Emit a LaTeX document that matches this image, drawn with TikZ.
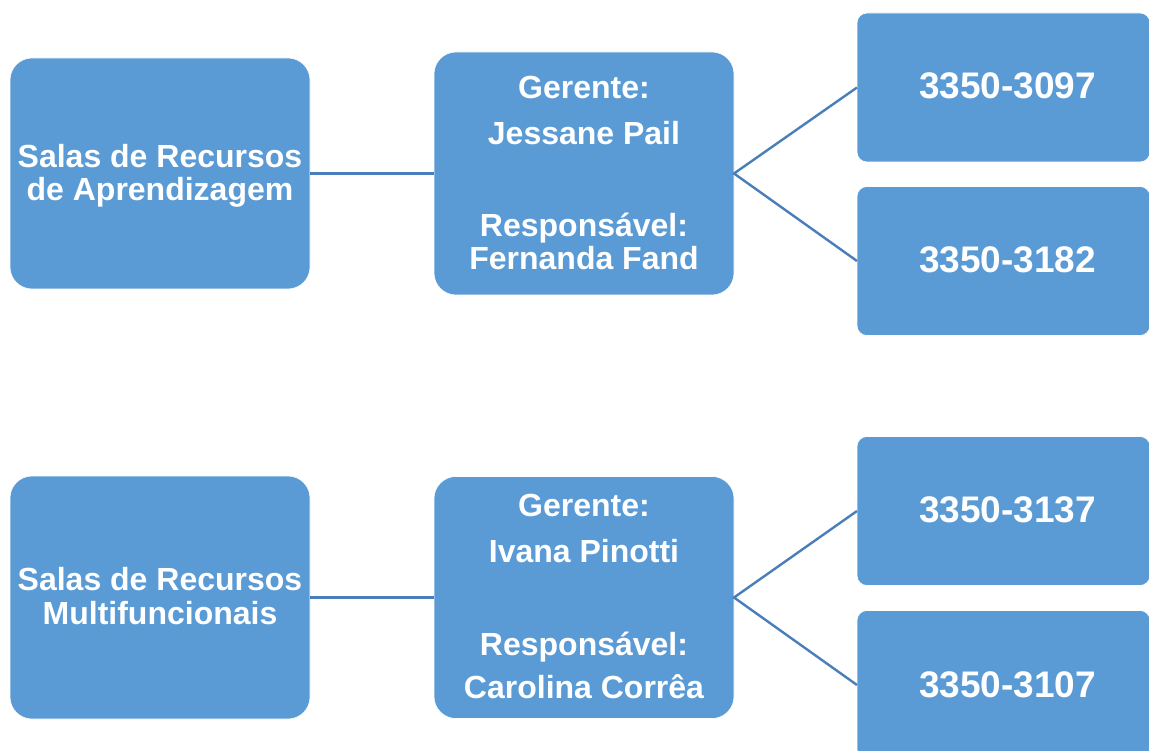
\documentclass[tikz,border=0pt]{standalone}
\usepackage{fontspec}
\setmainfont{Liberation Sans}
\definecolor{boxblue}{HTML}{5B9BD5}
\definecolor{linkblue}{HTML}{4A7EBB}
\begin{document}
\begin{tikzpicture}[x=1pt,y=-1pt,
  bigbox/.style={rectangle, rounded corners=22pt, fill=boxblue, draw=white, line width=0.6pt, inner sep=0pt, outer sep=0pt, minimum width=300pt},
  numbox/.style={rectangle, rounded corners=10pt, fill=boxblue, draw=white, line width=0.6pt, inner sep=0pt, outer sep=0pt, minimum width=293pt, minimum height=149pt},
  txt/.style={anchor=base, inner sep=0pt, text=white, font=\fontsize{32}{33}\selectfont\bfseries},
  numtxt/.style={anchor=base, inner sep=0pt, text=white, font=\fontsize{37}{40}\selectfont\bfseries},
  link/.style={draw=linkblue, line width=2.4pt}]
\useasboundingbox (0,0) rectangle (1149,751);
\clip (0,0) rectangle (1149,751);
% boxes
\node[bigbox, minimum height=231pt] (L1) at (160,173.5) {};
\node[bigbox, minimum height=243pt] (M1) at (584,173.5) {};
\node[numbox] (R1) at (1003.5,87.5) {};
\node[numbox] (R2) at (1003.5,261) {};
\node[bigbox, minimum height=243pt] (L2) at (160,597.5) {};
\node[bigbox, minimum height=242pt] (M2) at (584,597.5) {};
\node[numbox] (R3) at (1003.5,511) {};
\node[numbox] (R4) at (1003.5,685) {};
% connectors
\draw[link] (L1.east) -- (M1.west);
\draw[link] (R1.west) -- (M1.east) -- (R2.west);
\draw[link] (L2.east) -- (M2.west);
\draw[link] (R3.west) -- (M2.east) -- (R4.west);
% texts, top row
\node[txt] (l1a) at (160,168) {Salas de Recursos};
\node[txt] (l1b) at (160,201) {de Aprendizagem};
\node[txt] (m1a) at (584,99) {Gerente:};
\node[txt] (m1b) at (584,145) {Jessane Pail};
\node[txt] (m1c) at (584,237) {Responsável:};
\node[txt] (m1d) at (584,270) {Fernanda Fand};
\node[numtxt] (r1t) at (1007.5,99) {3350-3097};
\node[numtxt] (r2t) at (1007.5,273) {3350-3182};
% texts, bottom row
\node[txt] (l2a) at (160,590) {Salas de Recursos};
\node[txt] (l2b) at (160,624) {Multifuncionais};
\node[txt] (m2a) at (584,516) {Gerente:};
\node[txt] (m2b) at (584,562) {Ivana Pinotti};
\node[txt] (m2c) at (584,655) {Responsável:};
\node[txt] (m2d) at (584,698) {Carolina Corrêa};
\node[numtxt] (r3t) at (1007.5,522) {3350-3137};
\node[numtxt] (r4t) at (1007.5,697) {3350-3107};
\end{tikzpicture}
\end{document}
